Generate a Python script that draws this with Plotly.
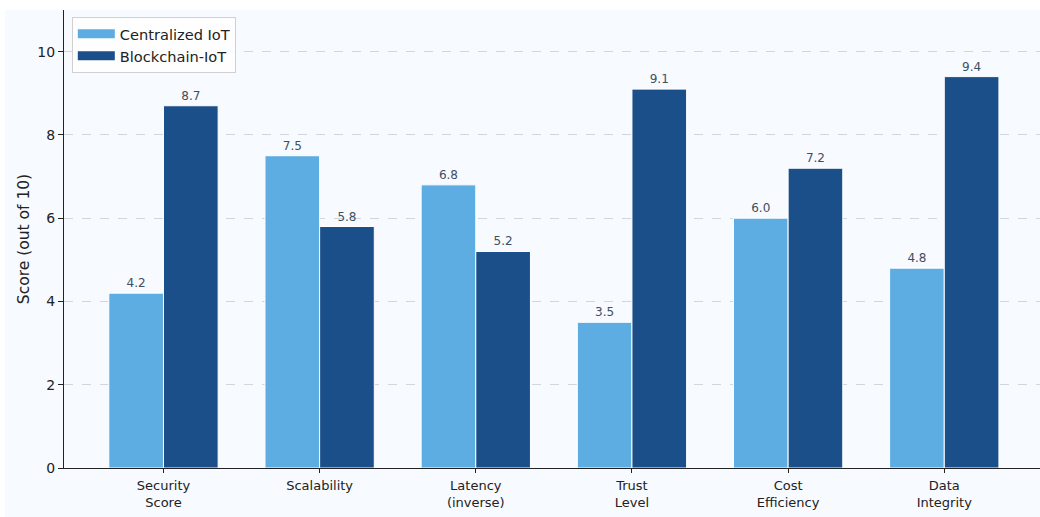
import plotly.graph_objects as go

categories = ["Security<br>Score", "Scalability", "Latency<br>(inverse)", "Trust<br>Level", "Cost<br>Efficiency", "Data<br>Integrity"]
centralized = [4.2, 7.5, 6.8, 3.5, 6.0, 4.8]
blockchain = [8.7, 5.8, 5.2, 9.1, 7.2, 9.4]
series_names = ["Centralized IoT", "Blockchain-IoT"]
series_colors = ["#5dade2", "#1b4f8a"]
y_ticks = [0, 2, 4, 6, 8, 10]

BG = "#f7faff"
FONT = "DejaVu Sans"

fig = go.Figure()
for name, vals, col in zip(series_names, [centralized, blockchain], series_colors):
    fig.add_trace(go.Bar(
        x=list(range(len(categories))), y=vals, name=name, showlegend=False,
        marker=dict(color=col, line=dict(color="white", width=1)),
        text=[f"{v:.1f}" for v in vals], textposition="outside",
        outsidetextfont=dict(size=12, color="#3d4f63", family=FONT), cliponaxis=False,
    ))
# legend entries (wide rectangular swatches)
for name, col in zip(series_names, series_colors):
    fig.add_trace(go.Scatter(
        x=[None], y=[None], mode="lines", name=name,
        line=dict(color=col, width=9), showlegend=True,
    ))

fig.update_layout(
    width=1040, height=517,
    margin=dict(l=64, r=0, t=10, b=49),
    paper_bgcolor="white", plot_bgcolor=BG,
    font=dict(family=FONT, color="#222222", size=12),
    barmode="group", bargap=0.3, bargroupgap=0,
    legend=dict(x=0.008, y=0.985, xanchor="left", yanchor="top",
                bgcolor="rgba(255,255,255,0.8)", bordercolor="#d0d0d0", borderwidth=1,
                font=dict(size=14.6, family=FONT, color="#222222"),
                tracegroupgap=0, itemwidth=37),
    shapes=[dict(type="rect", xref="paper", yref="paper",
                 x0=-59/976, x1=1.0, y0=-49/458, y1=1.0,
                 fillcolor=BG, line=dict(width=0), layer="below")],
)
fig.update_xaxes(
    range=[-0.637, 5.613], tickmode="array", tickvals=list(range(len(categories))),
    ticktext=categories, showline=True, linecolor="#222222", linewidth=1,
    ticks="outside", ticklen=4, tickcolor="#222222", showgrid=False,
    tickfont=dict(size=13, family=FONT, color="#222222"), zeroline=False,
    ticklabelstandoff=1,
)
fig.update_yaxes(
    range=[0, 11], tickmode="array", tickvals=y_ticks,
    showline=True, linecolor="#222222", linewidth=1,
    ticks="outside", ticklen=5, tickcolor="#222222",
    showgrid=True, gridcolor="#cfd6de", griddash="dash", gridwidth=1,
    tickfont=dict(size=14, family=FONT, color="#222222"), zeroline=False,
    title=dict(text="Score (out of 10)", font=dict(size=15.5, family=FONT, color="#222222"), standoff=3),
)

fig.write_html("out.html")
